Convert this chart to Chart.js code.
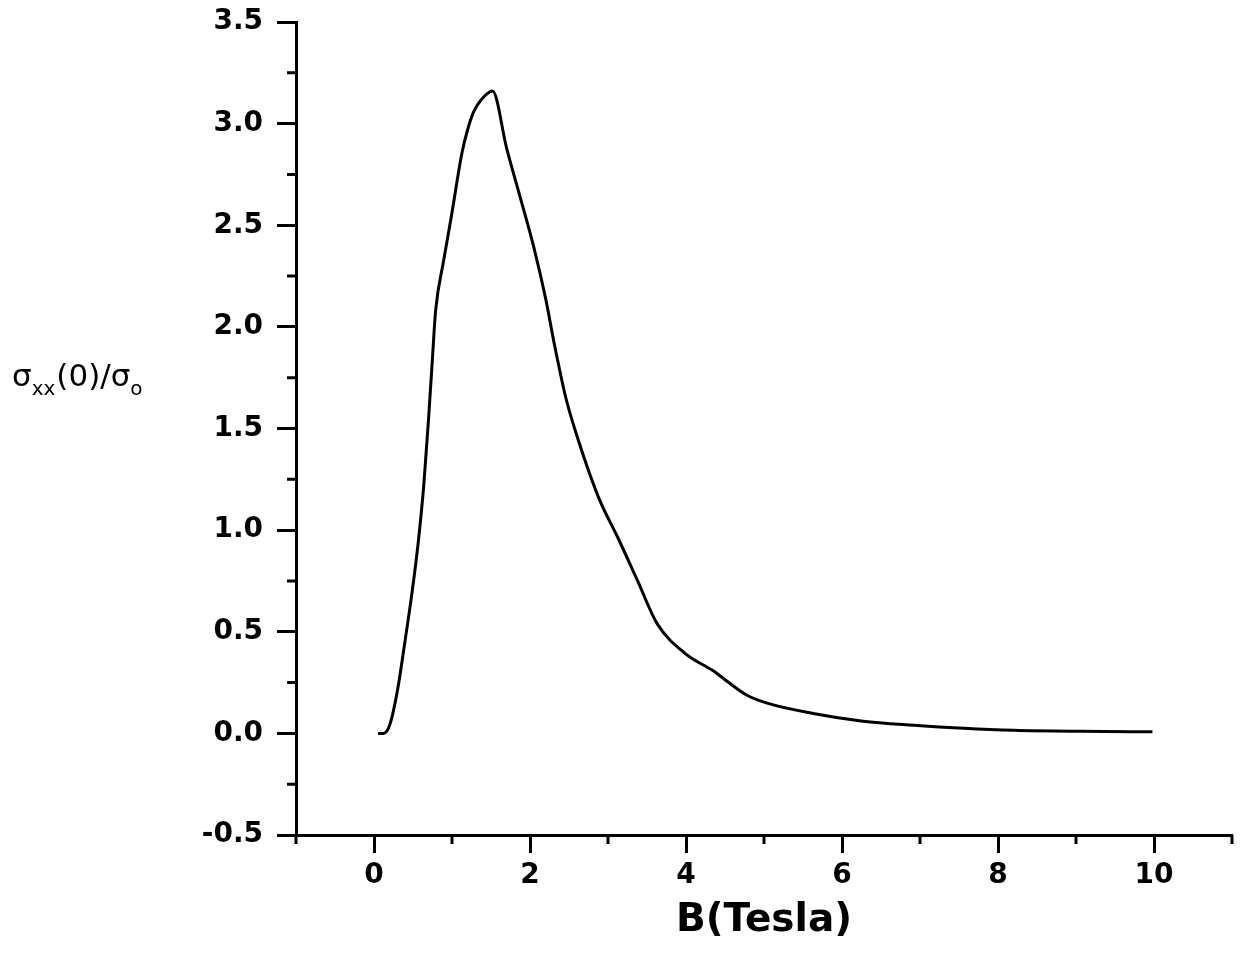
<!DOCTYPE html>
<html>
<head>
<meta charset="utf-8">
<script src="https://cdn.jsdelivr.net/npm/chart.js@4"></script>
<style>
  html, body { margin: 0; padding: 0; background: #fff; }
</style>
</head>
<body>
<canvas id="plot" width="1247" height="965"></canvas>
<script>
// B field (Tesla) and sigma_xx(0)/sigma_o
const bField = [
  0.05, 0.12, 0.20, 0.30, 0.40, 0.49, 0.57, 0.64, 0.70, 0.75,
  0.79, 0.89, 0.99, 1.13, 1.20, 1.28, 1.38, 1.52,
  1.70, 1.88, 2.05, 2.20, 2.32, 2.46, 2.58, 2.88, 3.13,
  3.38, 3.63, 4.00, 4.34, 4.43, 4.77, 5.03, 5.63, 6.27, 6.92,
  7.56, 8.20, 9.05, 9.98
];
const sigmaRatio = [
  0.00, 0.00, 0.04, 0.21, 0.46, 0.70, 0.95, 1.23, 1.55, 1.85,
  2.08, 2.32, 2.54, 2.86, 2.97, 3.06, 3.12, 3.16,
  2.88, 2.63, 2.39, 2.14, 1.90, 1.65, 1.49, 1.16, 0.96,
  0.75, 0.54, 0.39, 0.31, 0.285, 0.19, 0.15, 0.098, 0.06, 0.04,
  0.025, 0.015, 0.01, 0.008
];

const xTicks  = [0, 2, 4, 6, 8, 10];
const xMinor  = [-1, 1, 3, 5, 7, 9, 11];
const yTicks  = [-0.5, 0, 0.5, 1, 1.5, 2, 2.5, 3, 3.5];
const yMinor  = [-0.25, 0.25, 0.75, 1.25, 1.75, 2.25, 2.75, 3.25];
const xTitle  = 'B(Tesla)';
// y title pieces: [text, isSubscript]
const yTitle  = [['σ', false], ['xx', true], ['(0)/σ', false], ['o', true]];

const INK  = '#000';
const FONT = 'DejaVu Sans';

/* ---------- minor ticks + horizontal y title ---------- */
const extras = {
  id: 'extras',
  afterDraw(chart) {
    const { ctx, chartArea: area, scales: { x, y } } = chart;
    ctx.save();
    ctx.strokeStyle = INK;
    ctx.lineWidth = 3;
    ctx.beginPath();
    xMinor.forEach(v => {
      const px = x.getPixelForValue(v);
      ctx.moveTo(px, area.bottom);
      ctx.lineTo(px, area.bottom + 9);
    });
    yMinor.forEach(v => {
      const py = y.getPixelForValue(v);
      ctx.moveTo(area.left, py);
      ctx.lineTo(area.left - 9, py);
    });
    ctx.stroke();

    // sigma_xx(0)/sigma_o, drawn piece by piece for the subscripts
    ctx.fillStyle = INK;
    ctx.textBaseline = 'alphabetic';
    let tx = 12;
    const base = 386;
    yTitle.forEach(([txt, sub]) => {
      ctx.font = sub ? `20px "${FONT}"` : `31px "${FONT}"`;
      ctx.fillText(txt, tx, sub ? base + 9 : base);
      tx += ctx.measureText(txt).width + (sub ? 1 : 0);
    });
    ctx.restore();
  }
};

new Chart(document.getElementById('plot'), {
  type: 'line',
  data: {
    datasets: [{
      data: bField.map((b, i) => ({ x: b, y: sigmaRatio[i] })),
      borderColor: INK,
      borderWidth: 3,
      pointRadius: 0,
      cubicInterpolationMode: 'monotone',
      fill: false
    }]
  },
  options: {
    responsive: false,
    animation: false,
    layout: { padding: { top: 22, right: 15, left: 0, bottom: 0 } },
    plugins: { legend: { display: false }, tooltip: { enabled: false } },
    scales: {
      x: {
        type: 'linear', min: -1, max: 11,
        afterBuildTicks: s => { s.ticks = xTicks.map(v => ({ value: v })); },
        afterFit: s => { s.height = 130; s.paddingLeft = 0; s.paddingRight = 0; },
        grid: { drawOnChartArea: false, tickLength: 18, tickWidth: 3, tickColor: INK },
        border: { color: INK, width: 3 },
        ticks: { font: { family: FONT, size: 28, weight: 'bold' }, color: INK, padding: 6, maxRotation: 0 },
        title: {
          display: true, text: xTitle, color: INK,
          font: { family: FONT, size: 39, weight: 'bold' },
          padding: { top: 0, bottom: 21 }
        }
      },
      y: {
        type: 'linear', min: -0.5, max: 3.5,
        afterBuildTicks: s => { s.ticks = yTicks.map(v => ({ value: v })); },
        afterFit: s => { s.width = 296; s.paddingTop = 0; s.paddingBottom = 0; },
        grid: { drawOnChartArea: false, tickLength: 19, tickWidth: 3, tickColor: INK },
        border: { color: INK, width: 3 },
        ticks: {
          font: { family: FONT, size: 28, weight: 'bold' }, color: INK, padding: 14,
          callback: v => v.toFixed(1)
        }
      }
    }
  },
  plugins: [extras]
});
</script>
</body>
</html>
